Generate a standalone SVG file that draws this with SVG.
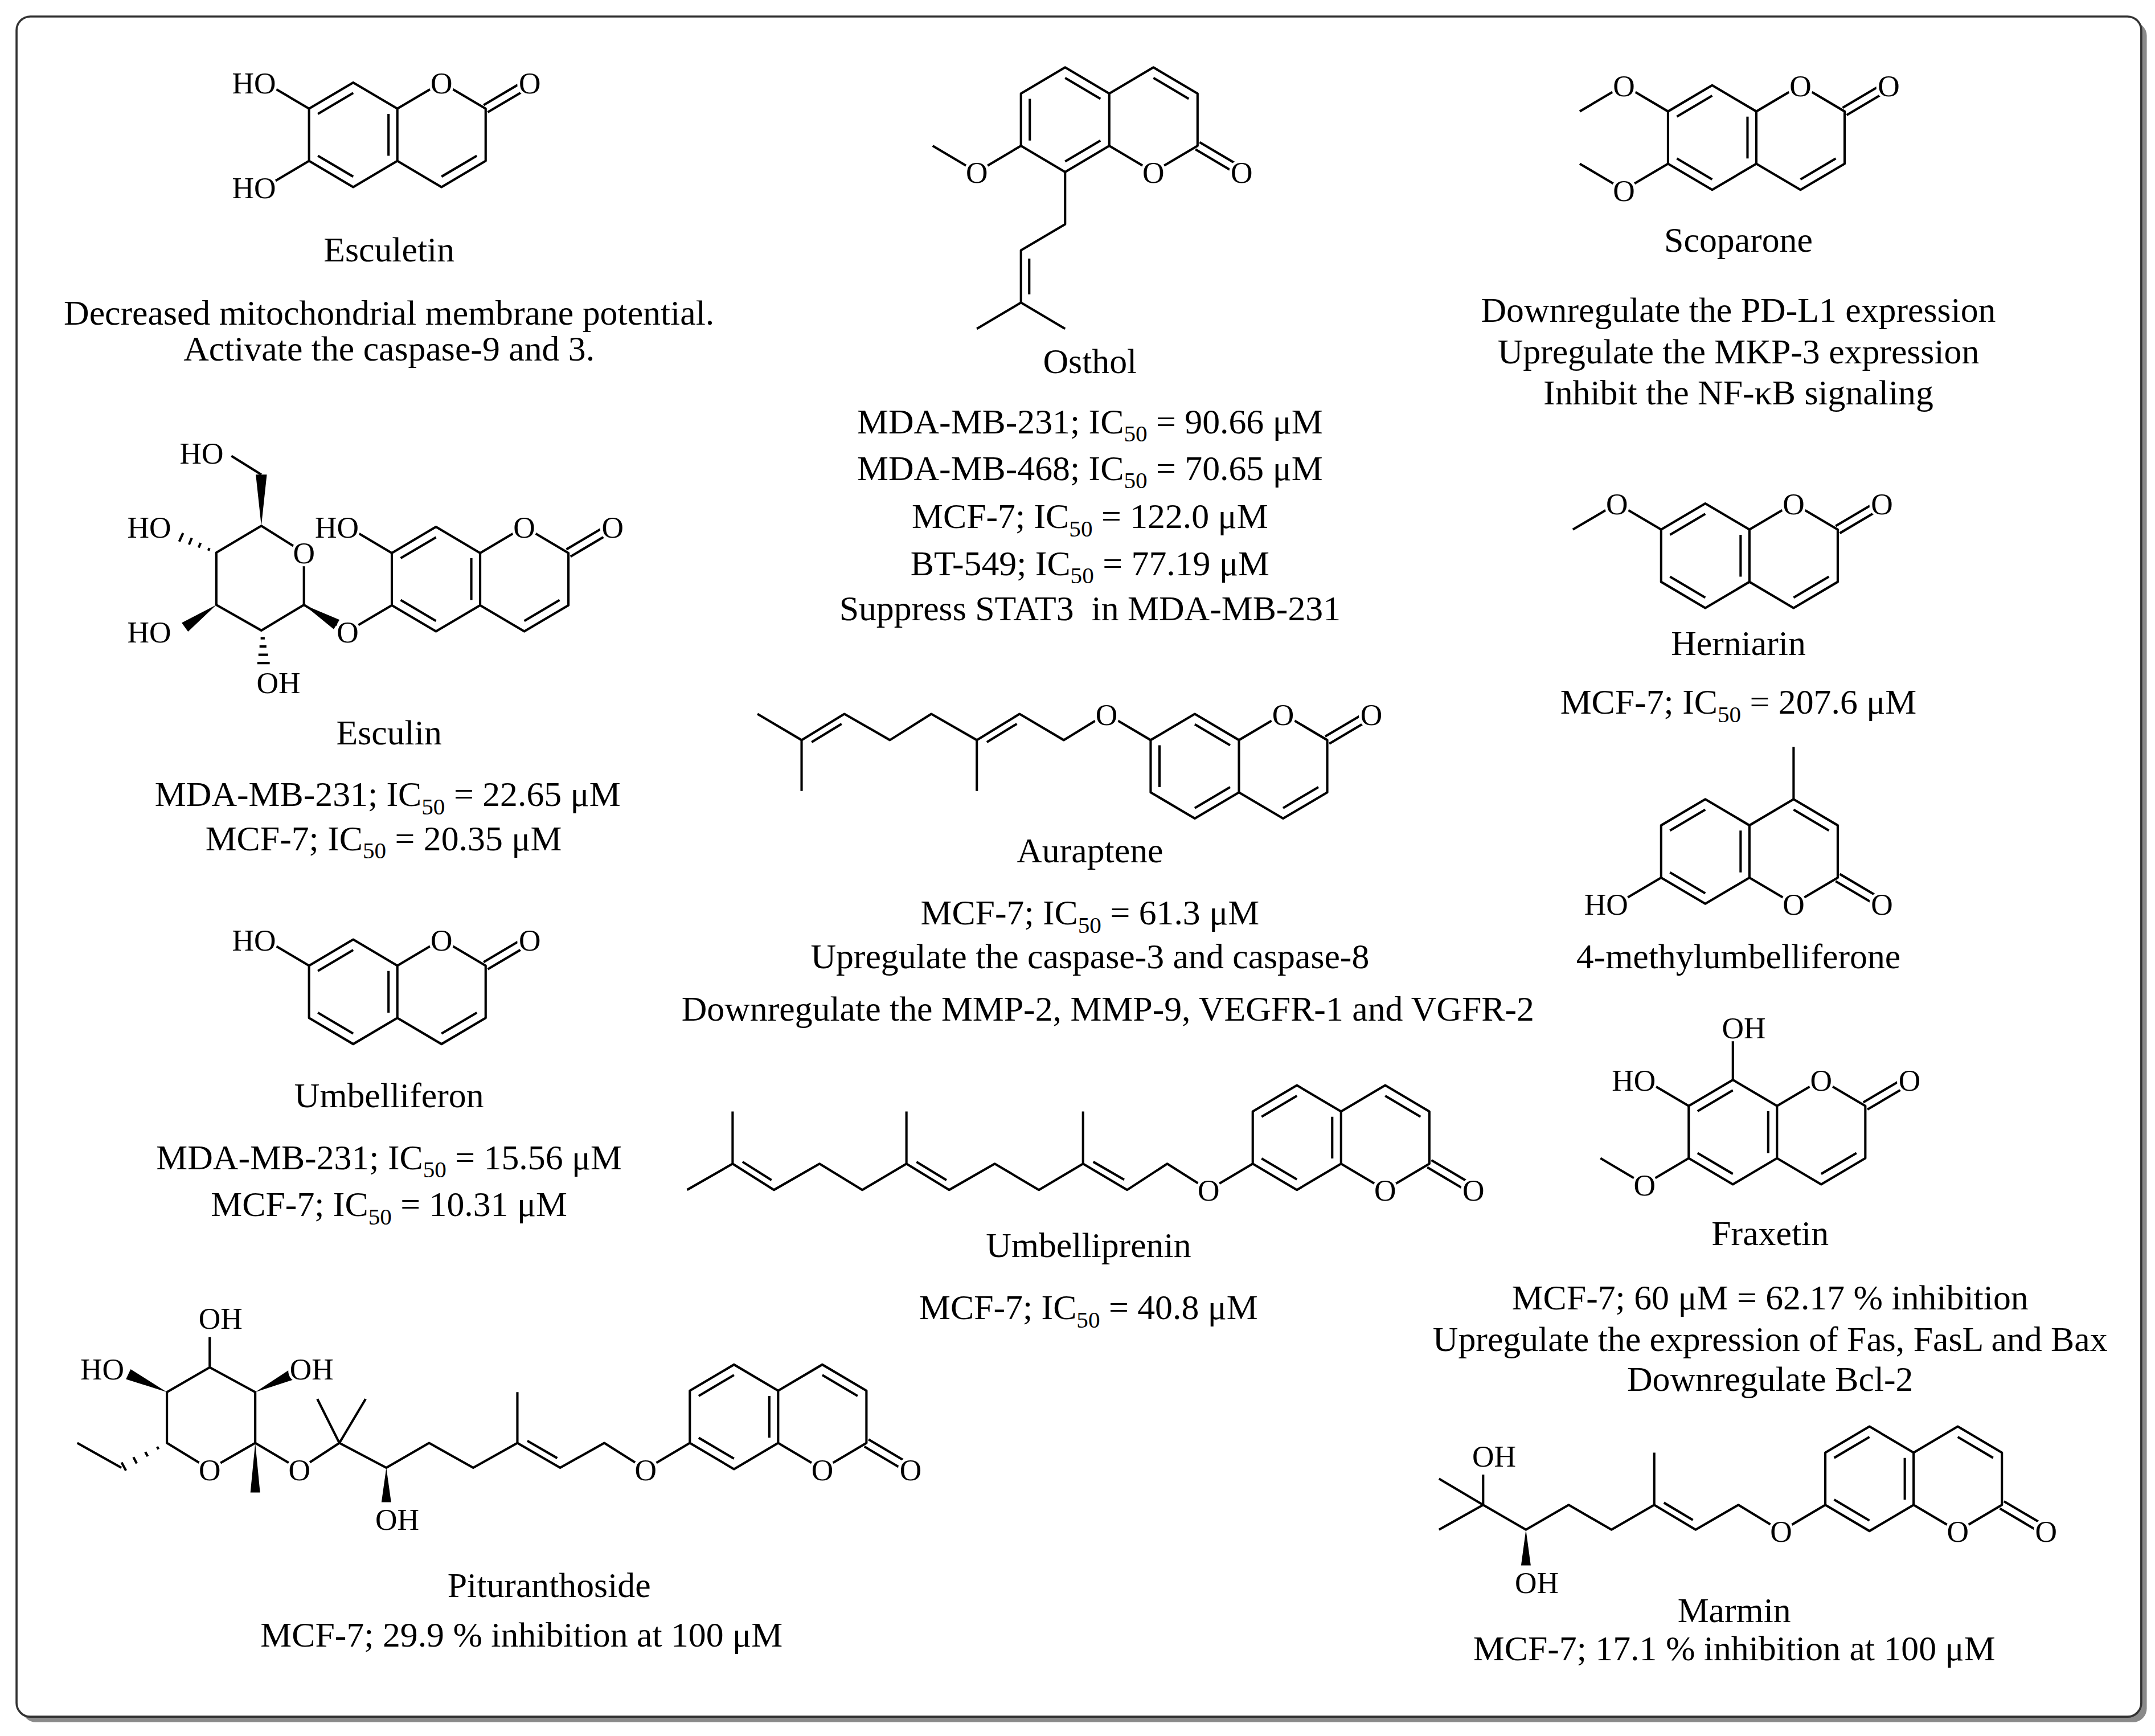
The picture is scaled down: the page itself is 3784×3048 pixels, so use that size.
<svg xmlns="http://www.w3.org/2000/svg" xmlns:xlink="http://www.w3.org/1999/xlink" width="3784" height="3048" viewBox="0 0 3784 3048">
<style>
.b{fill:none;stroke:#000;stroke-width:1.7;stroke-linejoin:round}
.w{fill:#000;stroke:none}
.m{fill:#fff;stroke:none}
.a{font-family:"Liberation Serif",serif;font-size:22px;text-anchor:middle;stroke:#fff;stroke-width:4;paint-order:stroke;fill:#000}
.ae{text-anchor:end}
.as{text-anchor:start}
.t{font-family:"Liberation Serif",serif;font-size:25.5px;text-anchor:middle;fill:#000}
.s{font-size:17px}
</style>
<defs>
<g id="cmA" class="b">
<path d="M-32,-19 L0,-38 L32,-19 L32,19 L0,38 L-32,19 Z M32,-19 L64,-38 L96,-19 L96,19 L64,38 L32,19 M-25.6,-15.2 L0,-30.4 M25.6,-15.2 L25.6,15.2 M0,30.4 L-25.6,15.2 M89.6,15.2 L64,30.4 M97.5,-16.4 L129.5,-35.4 M94.5,-21.6 L126.5,-40.6"/>
</g>
<g id="cmB" class="b">
<path d="M-32,-19 L0,-38 L32,-19 L32,19 L0,38 L-32,19 Z M32,-19 L64,-38 L96,-19 L96,19 L64,38 L32,19 M0,-30.4 L25.6,-15.2 M-25.6,15.2 L-25.6,-15.2 M25.6,15.2 L0,30.4 M89.6,15.2 L64,30.4 M97.5,-16.4 L129.5,-35.4 M94.5,-21.6 L126.5,-40.6"/>
</g>
</defs>
<rect width="3784" height="3048" fill="#fff"/>
<g transform="scale(2.4226,2.4152)">
<rect id="shadow" x="16" y="16" width="1540" height="1236" rx="10" fill="#8a8a8a"/>
<rect id="frame" x="12" y="12" width="1540" height="1236" rx="10" fill="#fff" stroke="#333" stroke-width="1.5"/>

<g id="esculetin">
<use xlink:href="#cmA" href="#cmA" transform="translate(256,98)"/>
<path class="b" d="M224,79 L192,60 M224,117 L192,136"/>
<circle class="m" cx="320" cy="60" r="9"/><circle class="m" cx="384" cy="60" r="9"/><circle class="m" cx="192" cy="60" r="9"/><circle class="m" cx="192" cy="136" r="9"/>
<text class="a" x="320" y="68">O</text><text class="a" x="384" y="68">O</text>
<text class="a ae" x="200" y="68">HO</text><text class="a ae" x="200" y="144">HO</text>
<text class="t" x="282" y="190">Esculetin</text>
<text class="t" x="282" y="236">Decreased mitochondrial membrane potential.</text>
<text class="t" x="282" y="262">Activate the caspase-9 and 3.</text>
</g>

<g id="osthol">
<use xlink:href="#cmB" href="#cmB" transform="translate(772,87) scale(1,-1)"/>
<path class="b" d="M740,106 L708,125 L676,106 M772,125 L772,163 L740,182 L740,220 L708,239 M740,220 L772,239 M746,188 L746,214"/>
<circle class="m" cx="836" cy="125" r="9"/><circle class="m" cx="900" cy="125" r="9"/><circle class="m" cx="708" cy="125" r="9"/>
<text class="a" x="836" y="133">O</text><text class="a" x="900" y="133">O</text><text class="a" x="708" y="133">O</text>
<text class="t" x="790" y="271">Osthol</text>
<text class="t" x="790" y="315">MDA-MB-231; IC<tspan class="s" dy="6">50</tspan><tspan dy="-6"> = 90.66 μM</tspan></text>
<text class="t" x="790" y="349">MDA-MB-468; IC<tspan class="s" dy="6">50</tspan><tspan dy="-6"> = 70.65 μM</tspan></text>
<text class="t" x="790" y="384">MCF-7; IC<tspan class="s" dy="6">50</tspan><tspan dy="-6"> = 122.0 μM</tspan></text>
<text class="t" x="790" y="418">BT-549; IC<tspan class="s" dy="6">50</tspan><tspan dy="-6"> = 77.19 μM</tspan></text>
<text class="t" x="790" y="451" xml:space="preserve">Suppress STAT3  in MDA-MB-231</text>
</g>

<g id="scoparone">
<use xlink:href="#cmA" href="#cmA" transform="translate(1241,100)"/>
<path class="b" d="M1209,81 L1177,62 L1145,81 M1209,119 L1177,138 L1145,119"/>
<circle class="m" cx="1305" cy="62" r="9"/><circle class="m" cx="1369" cy="62" r="9"/><circle class="m" cx="1177" cy="62" r="9"/><circle class="m" cx="1177" cy="138" r="9"/>
<text class="a" x="1305" y="70">O</text><text class="a" x="1369" y="70">O</text>
<text class="a" x="1177" y="70">O</text><text class="a" x="1177" y="146">O</text>
<text class="t" x="1260" y="183">Scoparone</text>
<text class="t" x="1260" y="234">Downregulate the PD-L1 expression</text>
<text class="t" x="1260" y="264">Upregulate the MKP-3 expression</text>
<text class="t" x="1260" y="294">Inhibit the NF-κB signaling</text>
</g>

<g id="esculin">
<use xlink:href="#cmA" href="#cmA" transform="translate(316,421)"/>
<path class="b" d="M284,402 L252,383 M284,440 L252,459 M252,459 L220.3,439.7 M220.3,439.7 L220.3,401.7 L189.4,382.3 L156.8,401.7 L156.8,439.7 L189.4,458.3 L220.3,439.7 M167.7,331.4 L189.4,345"/>
<polygon class="w" points="189.4,382.3 185.4,345 193.4,345"/>
<polygon class="w" points="156.8,439.7 136.3,459.2 131.7,452.8"/>
<polygon class="w" points="220.3,439.7 241.9,457.4 246.1,450.6"/>
<path class="b" stroke-width="1.4" d="M151.8,398.5 L151,400.3 M145.4,394.7 L144,398.1 M139,391.1 L137,395.9 M132.7,387.5 L129.9,393.7 M188.9,464 L191.9,464 M188.1,470 L193.1,470 M187.3,476 L194.3,476 M186.5,482 L195.5,482"/>
<circle class="m" cx="380" cy="383" r="9"/><circle class="m" cx="444" cy="383" r="9"/><circle class="m" cx="252" cy="383" r="9"/><circle class="m" cx="252" cy="459" r="9"/><circle class="m" cx="220.3" cy="401.7" r="9"/>
<text class="a" x="380" y="391">O</text><text class="a" x="444" y="391">O</text>
<text class="a ae" x="260" y="391">HO</text><text class="a" x="252" y="467">O</text>
<text class="a" x="220.3" y="409.7">O</text>
<text class="a ae" x="162" y="337">HO</text>
<text class="a ae" x="124" y="391">HO</text>
<text class="a ae" x="124" y="467">HO</text>
<text class="a as" x="186" y="504">OH</text>
<text class="t" x="282" y="541">Esculin</text>
<text class="t" x="281" y="586">MDA-MB-231; IC<tspan class="s" dy="6">50</tspan><tspan dy="-6"> = 22.65 μM</tspan></text>
<text class="t" x="278" y="618">MCF-7; IC<tspan class="s" dy="6">50</tspan><tspan dy="-6"> = 20.35 μM</tspan></text>
</g>

<g id="herniarin">
<use xlink:href="#cmA" href="#cmA" transform="translate(1236,404)"/>
<path class="b" d="M1204,385 L1172,366 L1140,385"/>
<circle class="m" cx="1300" cy="366" r="9"/><circle class="m" cx="1364" cy="366" r="9"/><circle class="m" cx="1172" cy="366" r="9"/>
<text class="a" x="1300" y="374">O</text><text class="a" x="1364" y="374">O</text><text class="a" x="1172" y="374">O</text>
<text class="t" x="1260" y="476">Herniarin</text>
<text class="t" x="1260" y="519">MCF-7; IC<tspan class="s" dy="6">50</tspan><tspan dy="-6"> = 207.6 μM</tspan></text>
</g>

<g id="auraptene">
<use xlink:href="#cmB" href="#cmB" transform="translate(866,557)"/>
<path class="b" d="M834,538 L802,519 L771,538 L739,519 L708,538 L675,519 L645,538 L612,519 L581,538 L549,519 M708,538 L708,575 M581,538 L581,575 M715.3,539.5 L737,526.2 M588.3,539.5 L610,526.2"/>
<circle class="m" cx="802" cy="519" r="9"/><circle class="m" cx="930" cy="519" r="9"/><circle class="m" cx="994" cy="519" r="9"/>
<text class="a" x="802" y="527">O</text><text class="a" x="930" y="527">O</text><text class="a" x="994" y="527">O</text>
<text class="t" x="790" y="627">Auraptene</text>
<text class="t" x="790" y="672">MCF-7; IC<tspan class="s" dy="6">50</tspan><tspan dy="-6"> = 61.3 μM</tspan></text>
<text class="t" x="790" y="704">Upregulate the caspase-3 and caspase-8</text>
<text class="t" x="803" y="742">Downregulate the MMP-2, MMP-9, VEGFR-1 and VGFR-2</text>
</g>

<g id="methylumbelliferone">
<use xlink:href="#cmA" href="#cmA" transform="translate(1236,619) scale(1,-1)"/>
<path class="b" d="M1204,638 L1172,657 M1300,581 L1300,543"/>
<circle class="m" cx="1300" cy="657" r="9"/><circle class="m" cx="1364" cy="657" r="9"/><circle class="m" cx="1172" cy="657" r="9"/>
<text class="a" x="1300" y="665">O</text><text class="a" x="1364" y="665">O</text>
<text class="a ae" x="1180" y="665">HO</text>
<text class="t" x="1260" y="704">4-methylumbelliferone</text>
</g>

<g id="umbelliferon">
<use xlink:href="#cmA" href="#cmA" transform="translate(256,721)"/>
<path class="b" d="M224,702 L192,683"/>
<circle class="m" cx="320" cy="683" r="9"/><circle class="m" cx="384" cy="683" r="9"/><circle class="m" cx="192" cy="683" r="9"/>
<text class="a" x="320" y="691">O</text><text class="a" x="384" y="691">O</text>
<text class="a ae" x="200" y="691">HO</text>
<text class="t" x="282" y="805">Umbelliferon</text>
<text class="t" x="282" y="850">MDA-MB-231; IC<tspan class="s" dy="6">50</tspan><tspan dy="-6"> = 15.56 μM</tspan></text>
<text class="t" x="282" y="884">MCF-7; IC<tspan class="s" dy="6">50</tspan><tspan dy="-6"> = 10.31 μM</tspan></text>
</g>

<g id="fraxetin">
<use xlink:href="#cmA" href="#cmA" transform="translate(1256,823)"/>
<path class="b" d="M1256,785 L1256,747 M1224,804 L1192,785 M1224,842 L1192,861 L1160,842"/>
<circle class="m" cx="1320" cy="785" r="9"/><circle class="m" cx="1384" cy="785" r="9"/><circle class="m" cx="1192" cy="785" r="9"/><circle class="m" cx="1256" cy="747" r="9"/><circle class="m" cx="1192" cy="861" r="9"/>
<text class="a" x="1320" y="793">O</text><text class="a" x="1384" y="793">O</text>
<text class="a ae" x="1200" y="793">HO</text><text class="a as" x="1248" y="755">OH</text>
<text class="a" x="1192" y="869">O</text>
<text class="t" x="1283" y="905">Fraxetin</text>
<text class="t" x="1283" y="952">MCF-7; 60 μM = 62.17 % inhibition</text>
<text class="t" x="1283" y="982">Upregulate the expression of Fas, FasL and Bax</text>
<text class="t" x="1283" y="1011">Downregulate Bcl-2</text>
</g>

<g id="umbelliprenin">
<use xlink:href="#cmA" href="#cmA" transform="translate(940,827) scale(1,-1)"/>
<path class="b" d="M908,846 L876,865 L846,846 L817,865 L785,846 L753,865 L721,846 L688,865 L657,846 L625,865 L594,846 L561,865 L531,846 L498,865 M531,846 L531,808 M657,846 L657,808 M785,846 L785,808 M538.2,844.6 L559.2,857.9 M664.3,844.6 L686,857.9 M792.4,844.6 L814.8,857.6"/>
<circle class="m" cx="876" cy="865" r="9"/><circle class="m" cx="1004" cy="865" r="9"/><circle class="m" cx="1068" cy="865" r="9"/>
<text class="a" x="876" y="873">O</text><text class="a" x="1004" y="873">O</text><text class="a" x="1068" y="873">O</text>
<text class="t" x="789" y="914">Umbelliprenin</text>
<text class="t" x="789" y="959">MCF-7; IC<tspan class="s" dy="6">50</tspan><tspan dy="-6"> = 40.8 μM</tspan></text>
</g>

<g id="pituranthoside">
<use xlink:href="#cmA" href="#cmA" transform="translate(532,1030) scale(1,-1)"/>
<path class="b" d="M500,1049 L468,1068 L438,1049 L406,1067 L375,1049 L343,1067 L311,1049 L280,1067 L246,1049 L217,1068 L185,1049 M375,1049 L375,1012 M382.2,1047.4 L403.9,1060 M246,1049 L230,1017 M246,1049 L265,1017 M185,1049 L152,1068 L121,1049 L121,1012 L152,994 L185,1012 L185,1049 M152,994 L152,972 M88,1067 L56,1049"/>
<polygon class="w" points="280,1067 276.5,1092 283.5,1092"/>
<polygon class="w" points="185,1049 181.5,1085 188.5,1085"/>
<polygon class="w" points="121,1012 94.7,995.4 91.3,1002.6"/>
<polygon class="w" points="185,1012 213.7,1002.6 210.3,995.4"/>
<path class="b" stroke-width="1.4" d="M114.9,1053.5 L113.9,1051.7 M107.1,1058.7 L105.3,1055.5 M99.1,1063.9 L96.7,1059.3 M91.3,1069.1 L88.1,1063.1"/>
<circle class="m" cx="596" cy="1068" r="9"/><circle class="m" cx="660" cy="1068" r="9"/><circle class="m" cx="468" cy="1068" r="9"/><circle class="m" cx="217" cy="1068" r="9"/><circle class="m" cx="152" cy="1068" r="9"/>
<text class="a" x="596" y="1076">O</text><text class="a" x="660" y="1076">O</text><text class="a" x="468" y="1076">O</text>
<text class="a" x="217" y="1076">O</text><text class="a" x="152" y="1076">O</text>
<text class="a as" x="272" y="1112">OH</text>
<text class="a as" x="144" y="966">OH</text>
<text class="a ae" x="90" y="1003">HO</text>
<text class="a as" x="210" y="1003">OH</text>
<text class="t" x="398" y="1161">Pituranthoside</text>
<text class="t" x="378" y="1197">MCF-7; 29.9 % inhibition at 100 μM</text>
</g>

<g id="marmin">
<use xlink:href="#cmA" href="#cmA" transform="translate(1355,1075) scale(1,-1)"/>
<path class="b" d="M1323,1094 L1291,1113 L1260,1094 L1229,1112 L1199,1094 L1168,1112 L1137,1094 L1106,1112 L1075,1094 L1043,1075 M1075,1094 L1043,1112 M1075,1094 L1075,1072 M1199,1094 L1199,1056 M1206,1092.4 L1227,1105"/>
<polygon class="w" points="1106,1112 1102.5,1138 1109.5,1138"/>
<circle class="m" cx="1419" cy="1113" r="9"/><circle class="m" cx="1483" cy="1113" r="9"/><circle class="m" cx="1291" cy="1113" r="9"/>
<text class="a" x="1419" y="1121">O</text><text class="a" x="1483" y="1121">O</text><text class="a" x="1291" y="1121">O</text>
<text class="a as" x="1067" y="1066">OH</text>
<text class="a as" x="1098" y="1158">OH</text>
<text class="t" x="1257" y="1179">Marmin</text>
<text class="t" x="1257" y="1207">MCF-7; 17.1 % inhibition at 100 μM</text>
</g>
</g>
</svg>
